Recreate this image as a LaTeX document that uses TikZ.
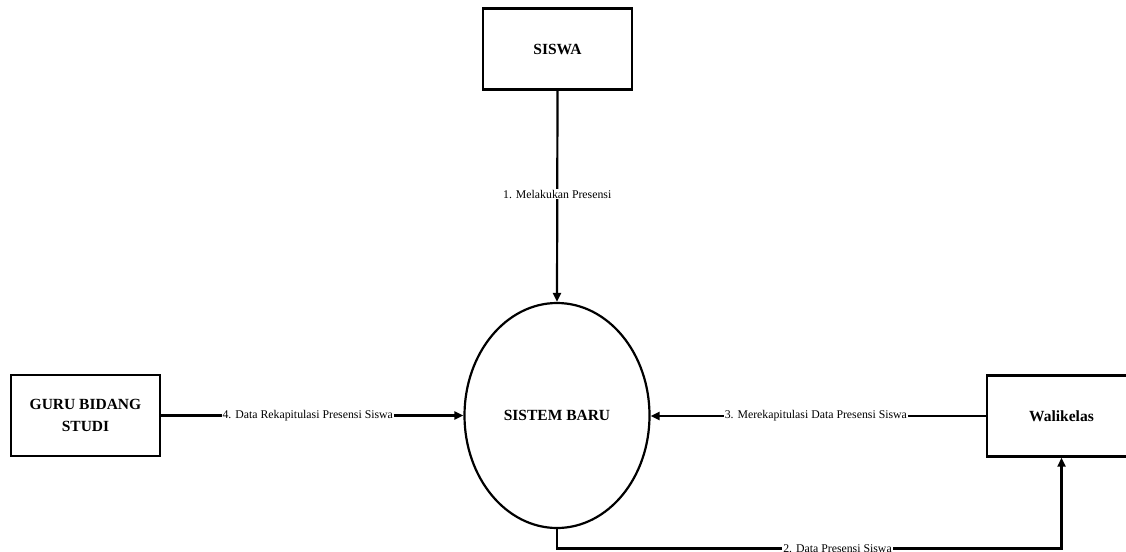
\documentclass[tikz,border=0pt]{standalone}
\usepackage{fontspec}
\setmainfont{Liberation Serif}
\usetikzlibrary{shapes.geometric,arrows.meta}
\begin{document}
\begin{tikzpicture}[x=1pt,y=-1pt,
  box/.style={draw,line width=2.4pt,rectangle,minimum width=149pt,minimum height=81pt,inner sep=0pt,align=center,font=\fontsize{15.5}{22}\selectfont\bfseries},
  proc/.style={draw,line width=2.2pt,ellipse,minimum width=185pt,minimum height=225pt,inner sep=0pt,font=\fontsize{15.5}{18}\selectfont\bfseries},
  flow/.style={line width=2.2pt},
  arr/.style={flow,-{Triangle[length=9pt,width=8pt]}},
  lbl/.style={fill=white,inner sep=1pt,font=\fontsize{11.8}{13}\selectfont}]
\useasboundingbox (0,0) rectangle (1126,551);
\node[box] (siswa) at (557.5,49) {SISWA};
\node[box] (guru) at (85.5,415.5) {GURU BIDANG\\STUDI};
\node[box] (wali) at (1061.5,416) {Walikelas};
\node[proc] (sys) at (557,415.5) {SISTEM BARU};
\draw[arr] (siswa.south) -- node[lbl,pos=0.49]{1. Melakukan Presensi} (sys.north);
\draw[arr] (guru.east) -- node[lbl,pos=0.485]{4. Data Rekapitulasi Presensi Siswa} (guru.east -| sys.west);
\draw[arr] (wali.west) -- node[lbl,pos=0.507]{3. Merekapitulasi Data Presensi Siswa} (wali.west -| sys.east);
\coordinate (b1) at (557,548.5);
\coordinate (b2) at (1061.5,548.5);
\draw[arr] (sys.south) -- (b1) -- node[lbl,pos=0.556]{2. Data Presensi Siswa} (b2) -- (wali.south);
\end{tikzpicture}
\end{document}
